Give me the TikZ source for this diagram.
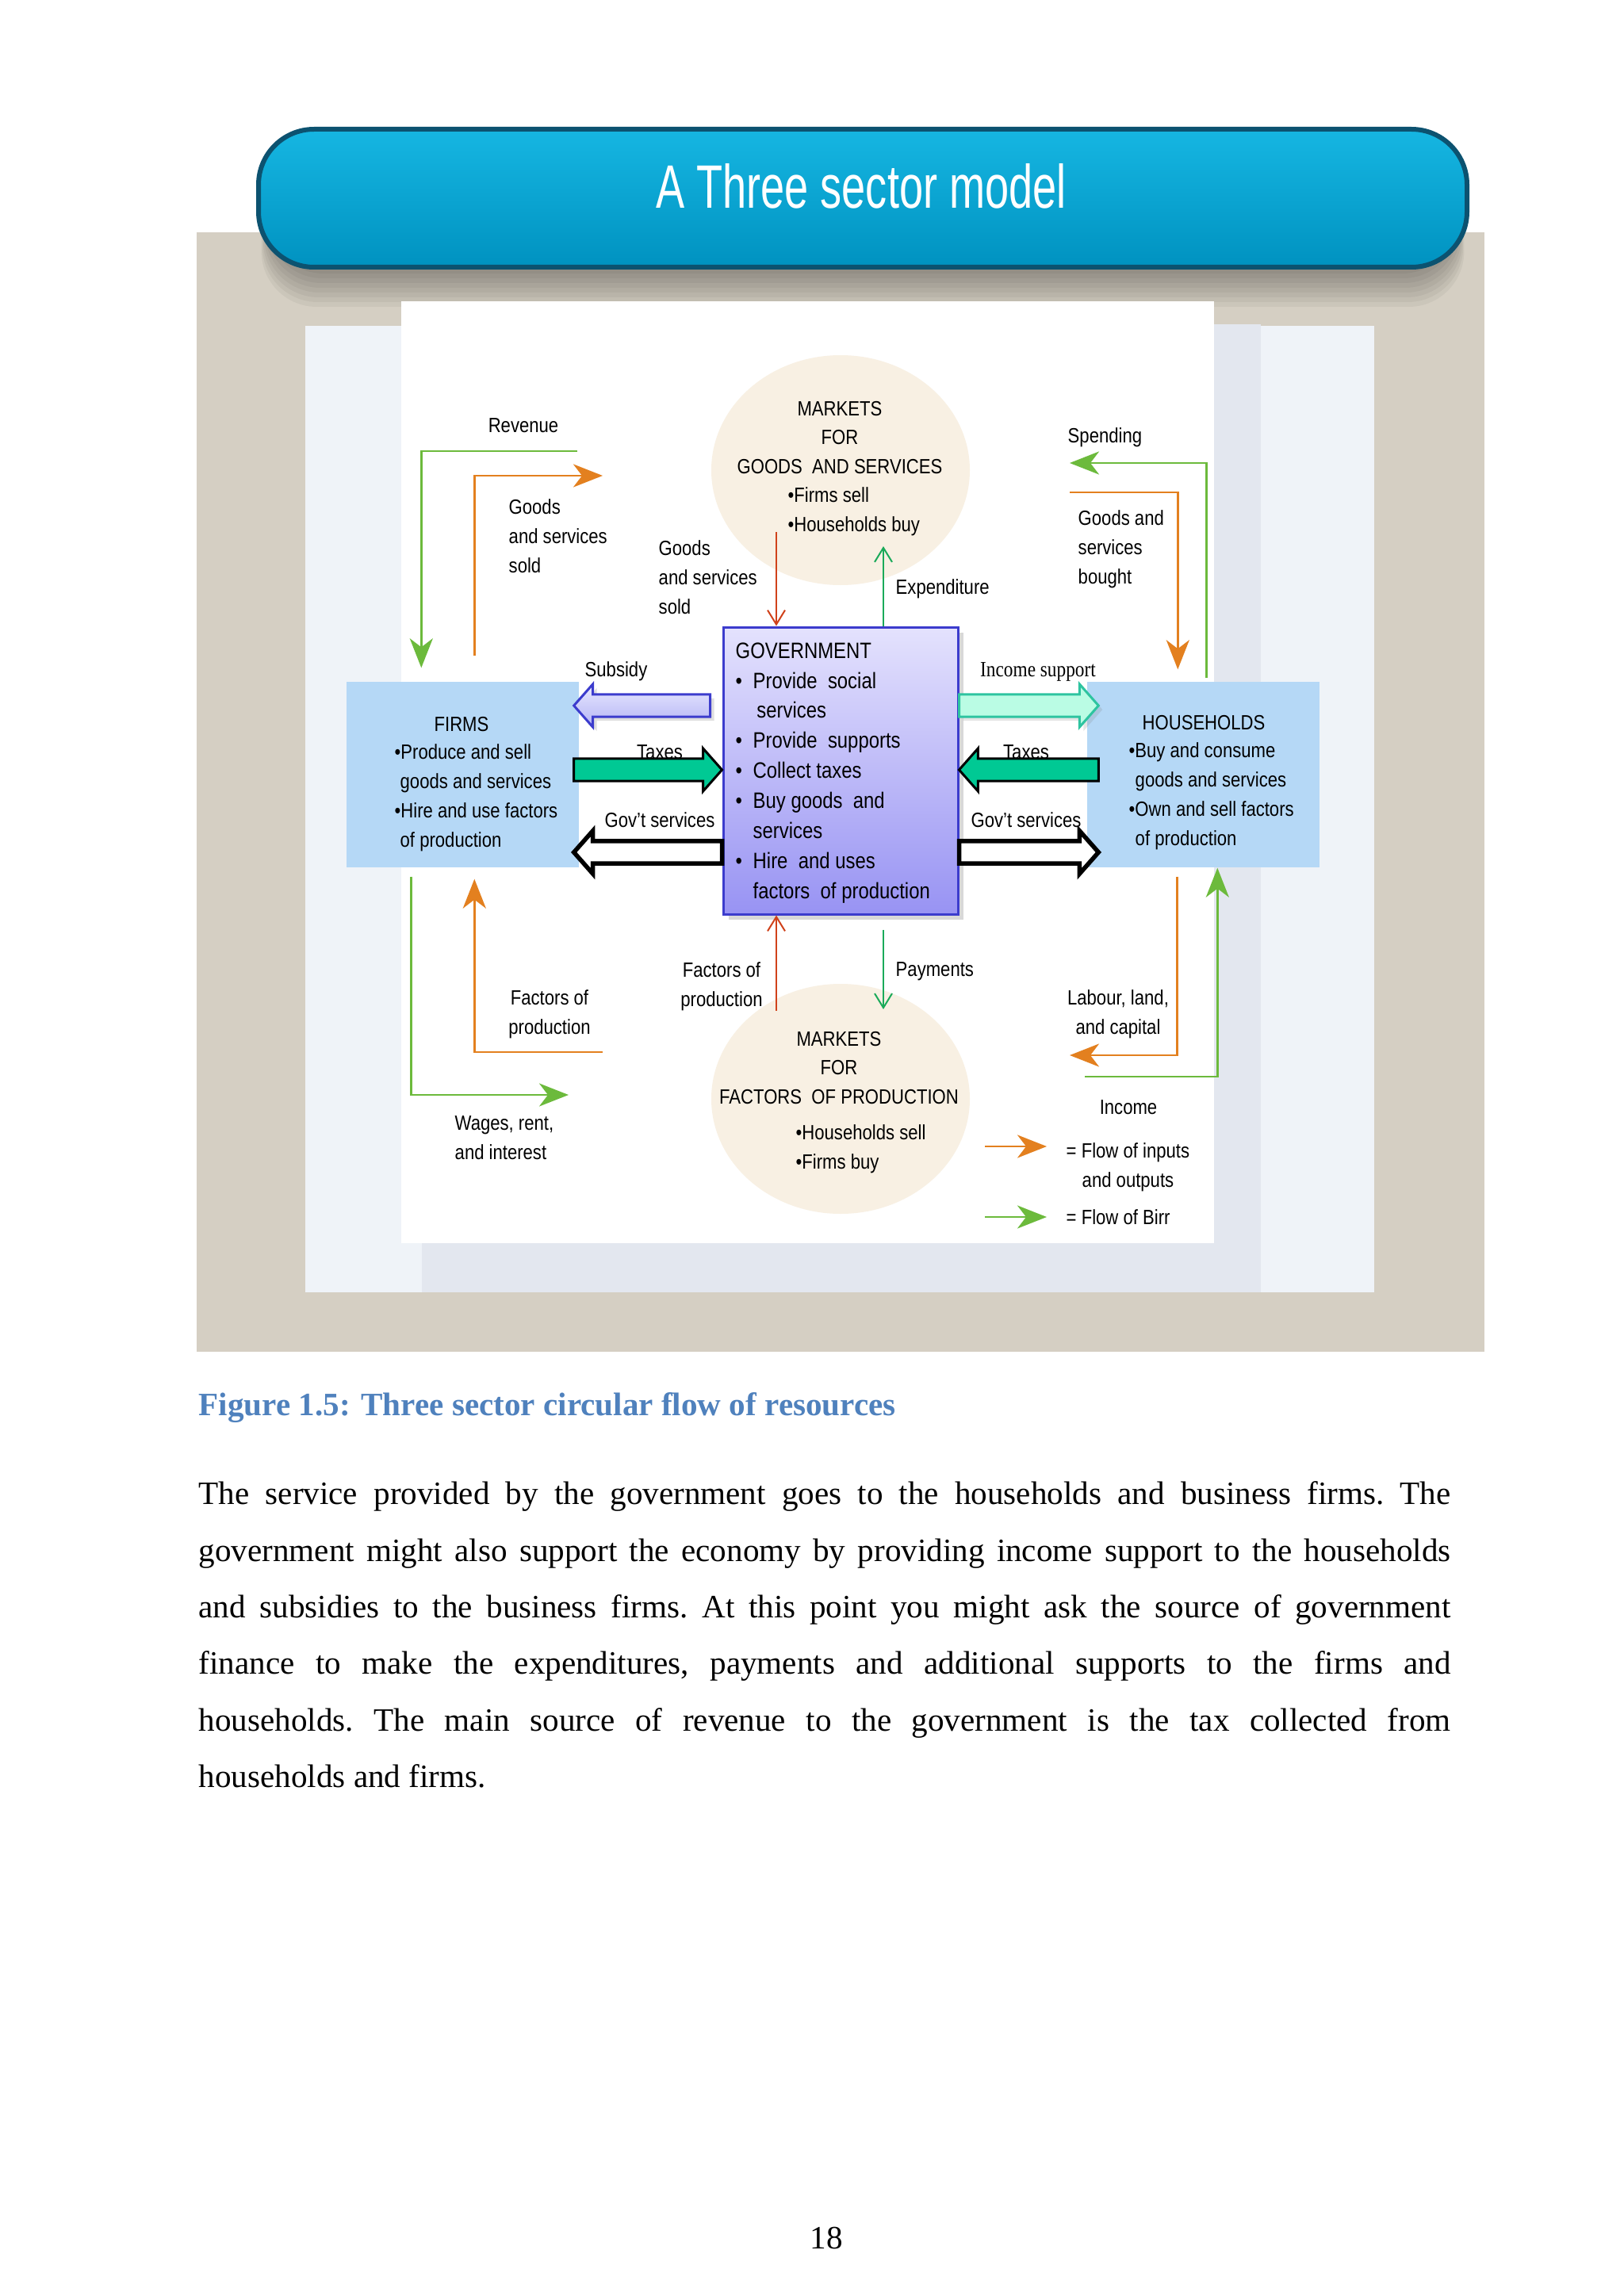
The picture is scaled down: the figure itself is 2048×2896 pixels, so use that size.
\documentclass[tikz,border=0pt]{standalone}
\usepackage{fontspec}
\setmainfont{Liberation Serif}
\newfontfamily\diafont[FakeStretch=0.85]{Liberation Sans}
\newfontfamily\bannerfont[FakeStretch=0.70]{Liberation Sans}
\newfontfamily\narrowserif[FakeStretch=0.85]{Liberation Serif}
\usetikzlibrary{arrows.meta,positioning,shapes.geometric,shadows,calc}

\definecolor{pagegrey}{RGB}{213,207,195}
\definecolor{panel}{RGB}{239,243,248}
\definecolor{panelshade}{RGB}{227,231,239}
\definecolor{bannertop}{RGB}{22,182,226}
\definecolor{bannerbot}{RGB}{0,146,192}
\definecolor{bannerrim}{RGB}{12,82,112}
\definecolor{sectorblue}{RGB}{181,216,246}
\definecolor{marketbeige}{RGB}{248,240,227}
\definecolor{govtop}{RGB}{228,226,253}
\definecolor{govbot}{RGB}{152,147,243}
\definecolor{govline}{RGB}{60,60,205}
\definecolor{subsidytop}{RGB}{234,234,255}
\definecolor{subsidybot}{RGB}{178,178,244}
\definecolor{taxgreen}{RGB}{0,201,148}
\definecolor{supportfill}{RGB}{186,252,228}
\definecolor{supportline}{RGB}{46,196,160}
\definecolor{flowgreen}{RGB}{108,186,60}
\definecolor{floworange}{RGB}{227,128,31}
\definecolor{thinred}{RGB}{208,66,27}
\definecolor{thingreen}{RGB}{27,170,90}
\definecolor{captionblue}{RGB}{79,129,189}

% fat two-level arrow: style, tail, tip, height of its axis
\newcommand{\fatarrow}[4]{%
  \draw[#1] let \p1=(#2), \p2=(#3), \p3=(0,#4), \n1={sign(\x2-\x1)} in
    (\x1,\y3+4pt) -- ({\x2-\n1*6.8pt},\y3+4pt) -- ({\x2-\n1*6.8pt},\y3+7.7pt)
    -- (\x2,\y3) -- ({\x2-\n1*6.8pt},\y3-7.7pt) -- ({\x2-\n1*6.8pt},\y3-4pt)
    -- (\x1,\y3-4pt) -- cycle;}
\newcommand{\govbullet}{\makebox[2.2mm][l]{•}}
\newcommand{\govindent}{\hspace*{2.2mm}}

\begin{document}
\begin{tikzpicture}[x=0.1mm,y=-0.1mm,
    lbl/.style={font=\diafont\fontsize{7.4}{10.5}\selectfont,inner sep=0pt,align=left},
    clbl/.style={lbl,align=center},
    govtxt/.style={font=\diafont\fontsize{8}{10.8}\selectfont,inner sep=0pt,align=left},
    sector/.style={fill=sectorblue,minimum width=29.3mm,minimum height=23.4mm,inner sep=0pt},
    market/.style={ellipse,fill=marketbeige,minimum width=32.6mm,minimum height=29mm,inner sep=0pt},
    govbox/.style={draw=govline,line width=0.3mm,top color=govtop,bottom color=govbot,
        minimum width=29.6mm,minimum height=36.2mm,inner sep=0pt,
        drop shadow={opacity=0.3,shadow xshift=0.7mm,shadow yshift=-0.7mm}},
    bannerbox/.style={rectangle,rounded corners=7mm,minimum width=152.4mm,minimum height=17.4mm,
        top color=bannertop,bottom color=bannerbot,draw=bannerrim,line width=0.6mm},
    birr/.style={draw=flowgreen,line width=0.28mm,-{Stealth[length=3.7mm,width=2.9mm,inset=1.1mm]}},
    inout/.style={draw=floworange,line width=0.28mm,-{Stealth[length=3.7mm,width=2.9mm,inset=1.1mm]}},
    upflow/.style={draw=thinred,line width=0.2mm,-{Straight Barb[length=1.8mm,width=2.2mm]}},
    payflow/.style={draw=thingreen,line width=0.2mm,-{Straight Barb[length=1.8mm,width=2.2mm]}},
    subsidyarrow/.style={draw=govline,line width=0.3mm,top color=subsidytop,bottom color=subsidybot,
        drop shadow={opacity=0.25,shadow xshift=0.5mm,shadow yshift=-0.5mm}},
    supportarrow/.style={draw=supportline,line width=0.3mm,fill=supportfill,
        drop shadow={opacity=0.2,shadow xshift=0.5mm,shadow yshift=-0.5mm}},
    taxarrow/.style={draw=black,line width=0.3mm,fill=taxgreen},
    servarrow/.style={draw=black,line width=0.55mm,fill=white}
]
\useasboundingbox (0,0) rectangle (2048,2896);
\fill[white] (0,0) rectangle (2048,2896);

% page background and banner
\fill[pagegrey] (248,293) rectangle (1872,1705);
\foreach \s in {0,6,...,42} {
    \fill[black,opacity=0.045,rounded corners=7mm] (338-\s/5,215) rectangle (1838+\s/5,345+\s);
}
\node[bannerbox] (banner) at (1088,250) {};
\node[font=\bannerfont\fontsize{22}{26}\selectfont,text=white,inner sep=0pt] (title) at (1086,235) {A Three sector model};

% slide and paper
\fill[panel] (385,411) rectangle (1733,1630);
\fill[panelshade] (1531,409) rectangle (1590,1630);
\fill[panelshade] (532,1568) rectangle (1590,1630);
\fill[white] (506,380) rectangle (1531,1568);

% markets, sectors, government
\node[market] (gsmarket) at (1060,593) {};
\node[market] (fpmarket) at (1060,1386) {};
\node[sector] (firms) at (583.5,977) {};
\node[sector] (households) at (1517.5,977) {};
\node[govbox] (gov) at (1060,972) {};

% flows round the firms
\coordinate (revend) at (728,569);
\draw[birr] (revend) -| ([xshift=9.5mm,yshift=1.7mm]firms.north west);
\coordinate (gssoldend) at (760,600);
\draw[inout] ([xshift=16.2mm,yshift=3.2mm]firms.north west) |- (gssoldend);
\coordinate (wagesend) at (717,1381);
\draw[birr] ([xshift=8.2mm,yshift=-1.1mm]firms.south west) |- (wagesend);
\coordinate (factstart) at (760,1327);
\draw[inout] (factstart) -| ([xshift=16.2mm,yshift=-1.4mm]firms.south west);

% flows round the households
\coordinate (spendend) at (1349,584);
\draw[birr] ([xshift=15.1mm,yshift=0.4mm]households.north west) |- (spendend);
\coordinate (boughtstart) at (1349,621);
\draw[inout] (boughtstart) -| ([xshift=11.5mm,yshift=1.5mm]households.north west);
\coordinate (labourend) at (1349,1331);
\draw[inout] ([xshift=11.4mm,yshift=-1.1mm]households.south west) |- (labourend);
\coordinate (incomestart) at (1368,1358);
\draw[birr] (incomestart) -| ([xshift=16.5mm]households.south west);

% government and the markets
\coordinate (gsdown) at (979,671);
\draw[upflow] (gsdown) -- (gsdown |- gov.north);
\coordinate (gsup) at (1114,689);
\draw[payflow] (gsup |- gov.north) -- (gsup);
\coordinate (fpup) at (979,1275);
\draw[upflow] (fpup) -- (fpup |- gov.south);
\coordinate (fpdown) at (1114,1273);
\draw[payflow,shorten <=1.8mm] (fpdown |- gov.south) -- (fpdown);

% government and the sectors
\fatarrow{subsidyarrow}{[xshift=-1.5mm]gov.west}{[xshift=-0.7mm]firms.east}{890}
\fatarrow{taxarrow}{[xshift=-0.7mm]firms.east}{gov.west}{971}
\fatarrow{servarrow}{gov.west}{[xshift=-0.7mm]firms.east}{1075}
\fatarrow{supportarrow}{gov.east}{[xshift=1.5mm]households.west}{890}
\fatarrow{taxarrow}{[xshift=1.5mm]households.west}{gov.east}{971}
\fatarrow{servarrow}{gov.east}{[xshift=1.5mm]households.west}{1075}

% texts of the boxes
\node[clbl] (gstitle) at (1059,552) {MARKETS\\FOR\\GOODS\ \ AND SERVICES};
\node[lbl,anchor=west] (gstext) at (993,645) {•Firms sell\\•Households buy};
\node[clbl] (fptitle) at (1058,1347) {MARKETS\\FOR\\FACTORS\ \ OF PRODUCTION};
\node[lbl,anchor=west] (fptext) at (1003,1449) {•Households sell\\•Firms buy};
\node[clbl] (firmstitle) at (582,914) {FIRMS};
\node[lbl,anchor=west] (firmstext) at (497,1006) {•Produce and sell\\\hspace*{0.7mm}goods and services\\•Hire and use factors\\\hspace*{0.7mm}of production};
\node[clbl] (hhtitle) at (1518,912) {HOUSEHOLDS};
\node[lbl,anchor=west] (hhtext) at (1423,1004) {•Buy and consume\\\hspace*{0.8mm}goods and services\\•Own and sell factors\\\hspace*{0.8mm}of production};
\node[govtxt,anchor=west] (govtext) at (927,975) {GOVERNMENT\\\govbullet Provide\ \ social\\\govindent\,services\\\govbullet Provide\ \ supports\\\govbullet Collect taxes\\\govbullet Buy goods\ \ and\\\govindent services\\\govbullet Hire\ \ and uses\\\govindent factors\ \ of production};

% flow labels
\node[clbl] (revlbl) at (660,537) {Revenue};
\node[lbl,anchor=west] (gsoldlbl) at (641,676) {Goods\\and services\\sold};
\node[lbl,anchor=west] (gsold2lbl) at (830,728) {Goods\\and services\\sold};
\node[lbl,anchor=west] (explbl) at (1129,743) {Expenditure};
\node[lbl,anchor=west] (spendlbl) at (1346,552) {Spending};
\node[lbl,anchor=west] (gboughtlbl) at (1359,693) {Goods and\\services\\bought};
\node[clbl] (subsidylbl) at (777,847) {Subsidy};
\node[inner sep=0pt,font=\narrowserif\fontsize{7.8}{9}\selectfont] (supportlbl) at (1309,847) {Income support};
\node[clbl] (taxLlbl) at (832,949) {Taxes};
\node[clbl] (servLlbl) at (832,1034) {Gov’t services};
\node[clbl] (taxRlbl) at (1294,949) {Taxes};
\node[clbl] (servRlbl) at (1294,1034) {Gov’t services};
\node[clbl] (factLlbl) at (693,1279) {Factors of\\production};
\node[lbl,anchor=west] (wageslbl) at (573,1435) {Wages, rent,\\and interest};
\node[clbl] (factMlbl) at (910,1244) {Factors of\\production};
\node[lbl,anchor=west] (paylbl) at (1129,1225) {Payments};
\node[clbl] (labourlbl) at (1410,1279) {Labour, land,\\and capital};
\node[clbl] (incomelbl) at (1423,1397) {Income};

% legend
\coordinate (leginA) at (1242,1446);
\coordinate (leginB) at (1320,1446);
\draw[inout] (leginA) -- (leginB);
\coordinate (legbirrA) at (1242,1535);
\coordinate (legbirrB) at (1320,1535);
\draw[birr] (legbirrA) -- (legbirrB);
\node[lbl,anchor=west] (leginlbl) at (1344,1472) {= Flow of inputs\\\hspace*{2mm}and outputs};
\node[lbl,anchor=west] (legbirrlbl) at (1344,1535) {= Flow of Birr};

% caption and text of the page
\node[anchor=base west,inner sep=0pt,font=\bfseries\fontsize{11.7}{14}\selectfont,text=captionblue] (caption) at (250,1785) {Figure 1.5: Three sector circular flow of resources};
\node[anchor=north west,text width=157.9mm,align=justify,inner sep=0pt,font=\fontsize{11.7}{20.3}\selectfont\frenchspacing] (body) at (250,1868) {The service provided by the government goes to the households and business firms. The\linebreak
government might also support the economy by providing income support to the households\linebreak
and subsidies to the business firms. At this point you might ask the source of government\linebreak
finance to make the expenditures, payments and additional supports to the firms and\linebreak
households. The main source of revenue to the government is the tax collected from\linebreak
households and firms.};
\node[anchor=base,inner sep=0pt,font=\fontsize{11.7}{14}\selectfont] (pageno) at (1042,2836) {18};
\end{tikzpicture}
\end{document}
